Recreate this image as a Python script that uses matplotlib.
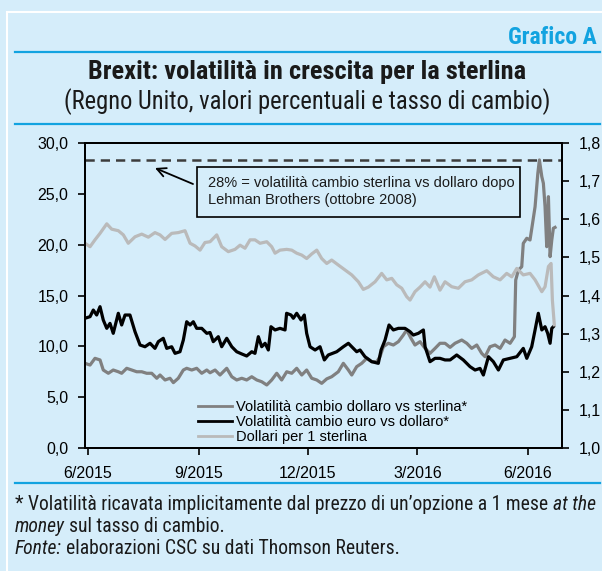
import numpy as np
import pandas as pd
import matplotlib
matplotlib.use("Agg")
import matplotlib.pyplot as plt
import matplotlib.dates as mdates
from matplotlib import font_manager as fm
from matplotlib.ticker import FuncFormatter, MultipleLocator
from matplotlib.patches import Rectangle
from matplotlib.lines import Line2D

# ---------------- data ----------------
START = pd.Timestamp("2015-06-01")

# Dollari per 1 sterlina (right axis); x = days since 1 June 2015
gbp_usd_days = [-2.5, 1.7, 5.8, 10.0, 15.6, 19.7, 25.2, 29.4, 33.5, 39.1, 44.7, 50.2, 55.7, 59.9, 64.1,
                69.6, 75.1, 80.7, 84.9, 89.0, 93.2, 97.3, 101.5, 107.1, 111.2, 116.7, 122.3, 126.5, 130.6,
                134.8, 138.9, 143.1, 148.7, 152.8, 155.6, 159.7, 165.3, 169.5, 173.6, 177.8, 181.9, 186.1,
                190.3, 194.4, 198.6, 202.7, 208.2, 213.8, 219.4, 224.9, 229.0, 233.2, 238.8, 244.3, 248.5,
                252.7, 256.8, 261.0, 265.1, 267.9, 272.0, 276.2, 280.4, 284.5, 288.1, 292.8, 297.0, 302.6,
                308.1, 313.6, 319.2, 324.7, 331.7, 337.2, 342.8, 348.3, 352.5, 356.7, 362.1, 367.7, 371.9,
                377.5, 380.2, 383.0, 385.2, 386.3, 387.9]
gbp_usd = [1.537, 1.528, 1.546, 1.563, 1.588, 1.574, 1.570, 1.559, 1.537, 1.554, 1.561, 1.553, 1.565,
           1.559, 1.547, 1.563, 1.565, 1.570, 1.537, 1.530, 1.519, 1.539, 1.541, 1.559, 1.528, 1.515,
           1.521, 1.532, 1.524, 1.546, 1.546, 1.537, 1.541, 1.528, 1.511, 1.519, 1.521, 1.519, 1.511,
           1.506, 1.497, 1.509, 1.519, 1.497, 1.484, 1.493, 1.480, 1.467, 1.454, 1.436, 1.416, 1.422,
           1.436, 1.458, 1.441, 1.445, 1.428, 1.419, 1.397, 1.388, 1.410, 1.422, 1.436, 1.422, 1.449,
           1.414, 1.436, 1.423, 1.419, 1.436, 1.441, 1.454, 1.465, 1.449, 1.441, 1.458, 1.449, 1.471,
           1.454, 1.458, 1.441, 1.410, 1.423, 1.476, 1.484, 1.388, 1.323]

# Volatilità cambio euro vs dollaro (left axis)
eur_vol_days = [-2.5, 1.7, 4.4, 7.2, 10.0, 12.7, 15.6, 18.3, 21.0, 25.2, 28.0, 30.8, 34.9, 39.1, 43.3,
                47.4, 51.6, 55.7, 58.5, 62.6, 65.5, 69.6, 72.4, 76.5, 79.3, 82.1, 84.9, 87.6, 90.4, 94.6,
                98.8, 101.5, 104.2, 108.4, 111.2, 115.4, 119.6, 123.7, 127.9, 132.0, 136.2, 138.9, 141.7,
                144.5, 147.3, 150.0, 152.2, 155.6, 159.7, 163.9, 165.2, 168.9, 170.8, 173.6, 177.2, 179.9,
                181.9, 184.7, 188.9, 193.0, 196.6, 199.9, 206.9, 212.4, 216.6, 219.4, 223.5, 226.3, 230.4,
                236.0, 241.5, 243.8, 247.1, 250.4, 254.0, 258.2, 263.7, 267.9, 270.6, 274.8, 279.0, 280.4,
                284.5, 288.7, 292.8, 297.0, 301.2, 306.7, 312.2, 317.8, 322.0, 326.1, 328.9, 333.1, 337.2,
                341.4, 345.5, 351.1, 356.7, 362.1, 365.0, 369.1, 371.9, 374.6, 377.5, 380.2, 382.4, 384.4,
                385.8, 387.1]
eur_vol = [12.76, 12.92, 13.57, 13.08, 13.9, 12.59, 11.77, 12.26, 11.28, 13.25, 12.1, 13.08, 13.08,
           11.44, 10.13, 9.96, 10.3, 9.8, 10.46, 10.79, 9.8, 9.96, 9.31, 9.47, 10.62, 12.42, 12.1, 12.42,
           11.77, 11.77, 11.28, 11.36, 10.46, 10.95, 9.96, 10.79, 9.96, 9.47, 9.25, 9.05, 9.47, 9.31,
           10.95, 9.96, 10.3, 9.64, 11.93, 11.61, 11.77, 11.61, 13.25, 13.08, 12.76, 13.25, 12.59, 13.08,
           11.28, 9.96, 9.64, 9.96, 8.66, 9.15, 9.47, 9.96, 10.3, 9.96, 9.47, 9.64, 8.98, 8.49, 8.33, 9.64,
           10.62, 12.1, 11.61, 11.77, 11.77, 11.44, 11.11, 11.28, 11.61, 9.96, 8.49, 8.82, 8.82, 8.66,
           8.66, 9.15, 8.66, 8.0, 7.67, 7.83, 7.18, 8.98, 8.49, 7.67, 8.66, 8.82, 8.98, 9.8, 8.82, 9.96,
           11.61, 13.25, 11.61, 11.93, 11.28, 10.3, 11.77, 11.93]

# Volatilità cambio dollaro vs sterlina (left axis)
usd_gbp_vol_days = [-2.5, 1.7, 5.8, 10.0, 12.7, 16.9, 21.0, 25.2, 28.0, 32.2, 36.4, 40.5, 44.7, 48.8,
                    53.0, 57.2, 59.9, 64.1, 68.2, 71.0, 75.1, 79.3, 82.1, 86.3, 90.4, 94.6, 98.8, 101.5,
                    105.7, 109.8, 115.4, 119.6, 123.7, 127.9, 132.0, 136.2, 140.4, 144.5, 148.7, 152.8,
                    157.0, 161.1, 165.3, 169.5, 173.6, 177.8, 181.9, 186.1, 190.3, 194.4, 198.6, 202.7,
                    208.2, 212.4, 216.6, 219.4, 223.5, 227.7, 231.9, 236.0, 240.2, 242.9, 245.7, 249.8,
                    254.0, 258.2, 262.3, 265.1, 268.7, 272.0, 276.2, 280.4, 284.5, 288.7, 292.8, 297.0,
                    301.2, 305.3, 310.9, 315.1, 319.2, 323.4, 327.5, 330.3, 334.4, 338.6, 342.8, 346.9,
                    351.1, 354.7, 355.8, 358.0, 360.8, 362.1, 365.0, 367.7, 369.6, 371.9, 374.2, 375.5,
                    377.5, 378.8, 380.2, 381.6, 383.0, 384.4, 385.8, 387.1, 388.5]
usd_gbp_vol = [8.33, 8.16, 8.82, 8.66, 7.67, 7.35, 7.67, 7.5, 7.35, 7.84, 7.67, 7.5, 7.5, 7.35, 7.35,
               6.86, 7.18, 6.69, 6.86, 6.43, 6.86, 7.67, 7.84, 7.67, 7.84, 7.35, 7.67, 7.4, 7.67, 7.18,
               7.84, 7.01, 6.69, 6.86, 6.69, 7.01, 6.69, 6.52, 6.2, 6.69, 7.35, 6.69, 7.5, 7.35, 7.84,
               7.18, 7.67, 6.86, 6.69, 6.36, 6.8, 7.01, 7.5, 8.33, 7.67, 7.18, 8.0, 8.33, 8.82, 8.49,
               8.49, 8.98, 9.96, 10.3, 10.13, 10.46, 11.11, 11.61, 10.79, 10.13, 10.46, 9.8, 9.31, 9.8,
               10.3, 10.3, 9.9, 10.3, 10.62, 10.3, 9.8, 10.13, 9.31, 8.98, 9.96, 10.13, 9.8, 10.62, 10.3,
               10.95, 16.52, 17.5, 17.83, 20.13, 20.63, 20.46, 21.93, 23.73, 27.02, 28.33, 26.69, 26.04,
               23.73, 19.8, 24.72, 18.82, 20.46, 21.61, 21.7]

LEHMAN_VOL = 28.3

LABELS = ["Volatilità cambio dollaro vs sterlina*",
          "Volatilità cambio euro vs dollaro*",
          "Dollari per 1 sterlina"]
HEADER = "Grafico A"
TITLE = "Brexit: volatilità in crescita per la sterlina"
SUBTITLE = "(Regno Unito, valori percentuali e tasso di cambio)"
NOTE_LINES = ["28% = volatilità cambio sterlina vs dollaro dopo",
              "Lehman Brothers (ottobre 2008)"]
FOOT = [[("* Volatilità ricavata implicitamente dal prezzo di un’opzione a 1 mese", "normal"),
         ("at the", "italic")],
        [("money", "italic"), ("sul tasso di cambio.", "normal")],
        [("Fonte:", "italic"), ("elaborazioni CSC su dati Thomson Reuters.", "normal")]]

# ---------------- style ----------------
names = {f.name for f in fm.fontManager.ttflist}
def pick(*c):
    for n in c:
        if n in names:
            return n
    return "DejaVu Sans"
NARROW = pick("Liberation Sans Narrow", "Roboto Condensed", "Open Sans Condensed", "Liberation Sans")
SANS = pick("Liberation Sans", "Arial", "DejaVu Sans")

BG = "#d5edfa"
BLUE = "#12a3e0"
C_DARK = "#808080"
C_LIGHT = "#bababa"
TXT = "#1a1a1a"

W, H = 602, 571
fig = plt.figure(figsize=(W / 100, H / 100), dpi=100)
fig.patch.set_facecolor(BG)
r = fig.canvas.get_renderer()

def fx(x): return x / W
def fy(y): return 1 - y / H

def width(t):
    return t.get_window_extent(r).width

def fit(t, target):
    t.set_fontsize(t.get_fontsize() * target / width(t))

# frame lines
fig.add_artist(Line2D([fx(7), fx(7)], [fy(12), 0], transform=fig.transFigure, color="white", lw=1.5))
fig.add_artist(Line2D([fx(7), 1], [fy(12), fy(12)], transform=fig.transFigure, color="white", lw=1.5))
for yy in (52, 124, 483):
    fig.add_artist(Line2D([fx(15), fx(600)], [fy(yy), fy(yy)], transform=fig.transFigure,
                          color=BLUE, lw=1.6))

# header / titles
th = fig.text(fx(597), fy(37), HEADER, ha="right", va="center", fontsize=14, fontweight="bold",
              color=BLUE, family=NARROW)
fit(th, 89)
tt = fig.text(fx(307), fy(72), TITLE, ha="center", va="center", fontsize=15, fontweight="bold",
              color=TXT, family=NARROW)
fit(tt, 436)
ts = fig.text(fx(307), fy(102), SUBTITLE, ha="center", va="center", fontsize=14, color=TXT,
              family=NARROW)
fit(ts, 490)

# ---------------- axes ----------------
ax = fig.add_axes([fx(85), fy(448), fx(562) - fx(85), fy(143) - fy(448)])
ax.set_facecolor("none")
ax2 = ax.twinx()

d_usd = START + pd.to_timedelta(usd_gbp_vol_days, unit="D")
d_eur = START + pd.to_timedelta(eur_vol_days, unit="D")
d_gbp = START + pd.to_timedelta(gbp_usd_days, unit="D")

ax.plot(d_usd, usd_gbp_vol, color=C_DARK, lw=2.3, solid_joinstyle="round", zorder=2)
ax.plot(d_eur, eur_vol, color="black", lw=2.3, solid_joinstyle="round", zorder=3)
ax2.plot(d_gbp, gbp_usd, color=C_LIGHT, lw=2.3, solid_joinstyle="round", zorder=2)
ax.axhline(LEHMAN_VOL, color="#3c3c3c", lw=1.8, ls=(0, (3.7, 2.4)), zorder=1)

ax.set_xlim(START + pd.Timedelta(days=-2.5), START + pd.Timedelta(days=394.3))
ax.set_ylim(0, 30)
ax2.set_ylim(1.0, 1.8)
comma = FuncFormatter(lambda v, p: f"{v:.1f}".replace(".", ","))
ax.yaxis.set_major_locator(MultipleLocator(5))
ax.yaxis.set_major_formatter(comma)
ax2.yaxis.set_major_locator(MultipleLocator(0.1))
ax2.yaxis.set_major_formatter(comma)
ax.xaxis.set_major_locator(mdates.MonthLocator(bymonth=[3, 6, 9, 12]))
ax.xaxis.set_major_formatter(FuncFormatter(
    lambda v, p: f"{mdates.num2date(v).month}/{mdates.num2date(v).year}"))

for a in (ax, ax2):
    for s in a.spines.values():
        s.set_linewidth(1.4)
        s.set_color("black")
    a.tick_params(direction="out", length=5, width=1.2, labelsize=11.5, pad=7, colors="black")
    for lab in a.get_xticklabels() + a.get_yticklabels():
        lab.set_family(SANS)
ax.tick_params(axis="x", pad=8)
for lab in ax.get_xticklabels() + ax.get_yticklabels() + ax2.get_yticklabels():
    lab.set_fontfamily(SANS)

# annotation box
ann1 = fig.text(fx(208), fy(183), NOTE_LINES[0], ha="left", va="center", fontsize=10,
                family=SANS, color=TXT)
fit(ann1, 305)
asz = ann1.get_fontsize()
fig.text(fx(208), fy(200), NOTE_LINES[1], ha="left", va="center", fontsize=asz, family=SANS, color=TXT)
fig.add_artist(Rectangle((fx(197), fy(217)), fx(520) - fx(197), fy(167) - fy(217),
                         transform=fig.transFigure, facecolor="none", edgecolor="black", lw=1.2))
ax.annotate("", xy=(fx(155), fy(168)), xycoords="figure fraction",
            xytext=(fx(193), fy(184)), textcoords="figure fraction",
            arrowprops=dict(arrowstyle="->", color="black", lw=1.3, mutation_scale=16,
                            shrinkA=0, shrinkB=0))

# legend
handles = [Line2D([], [], color=C_DARK, lw=2), Line2D([], [], color="black", lw=2),
           Line2D([], [], color=C_LIGHT, lw=2)]
ax.legend(handles, LABELS, loc="upper left", bbox_to_anchor=(fx(198), fy(400)),
          bbox_transform=fig.transFigure, frameon=False, prop={"family": SANS, "size": asz},
          handlelength=2.3, handletextpad=0.3, labelspacing=0.08, borderpad=0, borderaxespad=0)

# footnotes
def run_widths(runs, size):
    ws = []
    for s, st in runs:
        t = fig.text(0, 0, s, fontsize=size, style=st, family=NARROW)
        ws.append(width(t))
        t.remove()
    return ws

def space_width(size):
    a = fig.text(0, 0, "a a", fontsize=size, family=NARROW)
    b = fig.text(0, 0, "aa", fontsize=size, family=NARROW)
    w = width(a) - width(b)
    a.remove(); b.remove()
    return w

base = 12.0
tot = sum(run_widths(FOOT[0], base)) + space_width(base)
fsz = base * 583 / tot
sp = space_width(fsz)
for yy, runs in zip((505, 527, 549), FOOT):
    x = 15
    for (s, st), w in zip(runs, run_widths(runs, fsz)):
        fig.text(fx(x), fy(yy), s, ha="left", va="center", fontsize=fsz, style=st,
                 family=NARROW, color=TXT)
        x += w + sp

fig.savefig("out.png", dpi=100, facecolor=BG)
